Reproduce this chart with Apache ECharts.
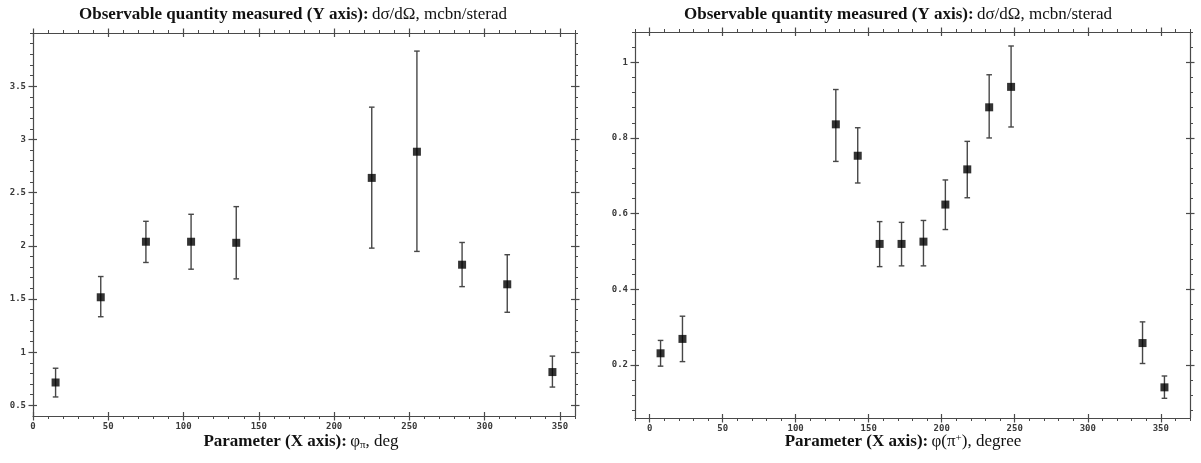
<!DOCTYPE html>
<html><head><meta charset="utf-8">
<script src="https://cdn.jsdelivr.net/npm/echarts@6/dist/echarts.min.js"></script>
<style>html,body{margin:0;padding:0;background:#fff}#c{width:1201px;height:463px}</style>
</head><body><div id="c"></div>
<script>
// ---- data: left chart (phi_pi, deg) ----
const leftX    = [15, 45, 75, 105, 135, 225, 255, 285, 315, 345];
const leftY    = [0.715, 1.516, 2.038, 2.038, 2.028, 2.638, 2.884, 1.822, 1.638, 0.813];
const leftLow  = [0.579, 1.333, 1.843, 1.780, 1.689, 1.978, 1.947, 1.616, 1.375, 0.672];
const leftHigh = [0.849, 1.711, 2.230, 2.296, 2.368, 3.303, 3.830, 2.031, 1.916, 0.963];
// ---- data: right chart (phi(pi+), degree) ----
const rightX    = [7.5, 22.5, 127.5, 142.5, 157.5, 172.5, 187.5, 202.5, 217.5, 232.5, 247.5, 337.5, 352.5];
const rightY    = [0.231, 0.269, 0.836, 0.753, 0.520, 0.520, 0.526, 0.624, 0.717, 0.881, 0.935, 0.258, 0.141];
const rightLow  = [0.197, 0.209, 0.738, 0.681, 0.460, 0.462, 0.462, 0.558, 0.642, 0.800, 0.829, 0.204, 0.112];
const rightHigh = [0.265, 0.329, 0.928, 0.827, 0.579, 0.577, 0.582, 0.689, 0.791, 0.967, 1.043, 0.314, 0.171];
// ---- tick labels ----
const leftXTicks  = [0, 50, 100, 150, 200, 250, 300, 350];
const leftYTicks  = [0.5, 1, 1.5, 2, 2.5, 3, 3.5];
const rightXTicks = [0, 50, 100, 150, 200, 250, 300, 350];
const rightYTicks = [0.2, 0.4, 0.6, 0.8, 1];
// ---- texts ----
const topTitleBold = 'Observable quantity measured (Y axis):';
const topTitleRest = 'dσ/dΩ, mcbn/sterad';
const xTitleBold = 'Parameter (X axis):';

function steps(a, b, s) { const r = []; for (let v = a; v <= b + s / 1000; v += s) r.push(Math.round(v * 10000) / 10000); return r; }

const AX = '#4a4a4a';
const LBL = { fontFamily: 'DejaVu Sans Mono', fontSize: 9, fontWeight: 'bold', color: '#3a3a3a' };

function axesFor(dim, g, min, max, majors, minors) {
  const pos = dim === 'x' ? ['bottom', 'top'] : ['left', 'right'];
  const list = [];
  pos.forEach((p, i) => {
    const base = { type: 'value', gridIndex: g, position: p, min: min, max: max, scale: true,
      splitLine: { show: false }, axisLine: { show: false, onZero: false },
      axisLabel: { show: false }, axisTick: { show: false }, axisPointer: { show: false } };
    list.push(Object.assign({}, base, {
      axisLine: { show: true, onZero: false, lineStyle: { color: AX, width: 1.2 } },
      axisTick: { show: true, customValues: minors, length: 3, inside: false, lineStyle: { color: AX, width: 1 } },
      axisLabel: i === 0 ? Object.assign({ show: true, customValues: majors, margin: dim === 'x' ? 6 : 7 }, LBL) : { show: false }
    }));
    list.push(Object.assign({}, base, {
      axisTick: { show: true, customValues: majors, length: 4.5, inside: false, lineStyle: { color: AX, width: 1.2 } }
    }));
    list.push(Object.assign({}, base, {
      axisTick: { show: true, customValues: majors, length: 4, inside: true, lineStyle: { color: AX, width: 1.2 } }
    }));
  });
  return list;
}

const xAxes = [].concat(
  axesFor('x', 0, 0, 360, leftXTicks, steps(0, 360, 10)),
  axesFor('x', 1, -10, 370, rightXTicks, steps(-10, 370, 10))
);
const yAxes = [].concat(
  axesFor('y', 0, 0.4, 4.0, leftYTicks, steps(0.5, 4.0, 0.1)),
  axesFor('y', 1, 0.06, 1.08, rightYTicks, steps(0.08, 1.08, 0.04))
);

function errRender(params, api) {
  const x = api.value(0), lo = api.value(1), hi = api.value(2);
  const p1 = api.coord([x, hi]), p2 = api.coord([x, lo]);
  const w = 2.8;
  const st = { stroke: '#474747', lineWidth: 1.4 };
  return { type: 'group', children: [
    { type: 'line', shape: { x1: p1[0], y1: p1[1], x2: p2[0], y2: p2[1] }, style: st },
    { type: 'line', shape: { x1: p1[0] - w, y1: p1[1], x2: p1[0] + w, y2: p1[1] }, style: st },
    { type: 'line', shape: { x1: p2[0] - w, y1: p2[1], x2: p2[0] + w, y2: p2[1] }, style: st }
  ] };
}

function seriesFor(xs, ys, lows, highs, xi, yi) {
  return [
    { type: 'custom', xAxisIndex: xi, yAxisIndex: yi, renderItem: errRender, silent: true,
      encode: { x: 0, y: [1, 2] }, data: xs.map((x, i) => [x, lows[i], highs[i]]), z: 2 },
    { type: 'scatter', xAxisIndex: xi, yAxisIndex: yi, symbol: 'rect', symbolSize: 8,
      itemStyle: { color: '#000' }, data: xs.map((x, i) => [x, ys[i]]), z: 3, silent: true }
  ];
}

const richT = {
  b: { fontFamily: 'Liberation Serif', fontWeight: 'bold', fontSize: 17, fill: '#111' },
  r: { fontFamily: 'Liberation Serif', fontSize: 17, fill: '#111' },
  sub: { fontFamily: 'Liberation Serif', fontSize: 11, fill: '#111', padding: [7, 0, 0, 0] },
  sup: { fontFamily: 'Liberation Serif', fontSize: 11, fill: '#111', padding: [0, 0, 7, 0] }
};
function txt(x, y, text) {
  return { type: 'text', x: x, y: y, silent: true,
    style: { text: text, rich: richT, align: 'center', verticalAlign: 'middle', fill: '#111' } };
}

const chart = echarts.init(document.getElementById('c'), null, { renderer: 'canvas' });
chart.setOption({
  animation: false,
  backgroundColor: '#fff',
  grid: [
    { left: 33, top: 33, width: 542, height: 383 },
    { left: 635, top: 32, width: 555, height: 386 }
  ],
  xAxis: xAxes,
  yAxis: yAxes,
  series: [].concat(
    seriesFor(leftX, leftY, leftLow, leftHigh, 0, 0),
    seriesFor(rightX, rightY, rightLow, rightHigh, 6, 6)
  ),
  graphic: [
    txt(293, 15, '{b|' + topTitleBold + '} {r|' + topTitleRest + '}'),
    txt(898, 15, '{b|' + topTitleBold + '} {r|' + topTitleRest + '}'),
    txt(301, 442, '{b|' + xTitleBold + '} {r|φ}{sub|π}{r|, deg}'),
    txt(903, 442, '{b|' + xTitleBold + '} {r|φ(π}{sup|+}{r|), degree}')
  ]
});
</script></body></html>
